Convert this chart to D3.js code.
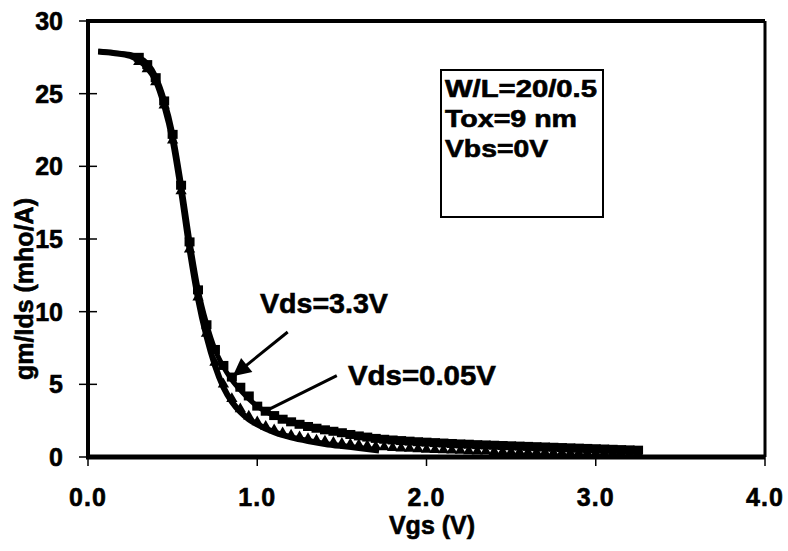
<!DOCTYPE html>
<html><head><meta charset="utf-8">
<script src="https://cdn.jsdelivr.net/npm/d3@7/dist/d3.min.js"></script>
<style>
body{margin:0;background:#fff;}
svg{display:block;font-family:"Liberation Sans",Arial,Helvetica,sans-serif;font-weight:bold;}
svg text{stroke:#000;stroke-width:0.6px;}
</style></head>
<body>
<svg id="chart" width="788" height="551"></svg>
<script>
// ---- data ----
const xTicks = [0, 1, 2, 3, 4];
const xTickLabels = ["0.0", "1.0", "2.0", "3.0", "4.0"];
const yTicks = [0, 5, 10, 15, 20, 25, 30];
const yTickLabels = ["0", "5", "10", "15", "20", "25", "30"];

// model curves
const lineHighX = [0.06,0.15,0.25,0.30,0.35,0.40,0.45,0.50,0.55,0.60,0.65,0.70,0.75,0.80,0.85,0.90,0.95,1.00,1.10,1.20,1.30,1.40,1.50,1.60,1.80,2.00,2.25,2.50,2.75,3.00,3.27];
const lineHighY = [27.9,27.8,27.7,27.5,27.1,26.2,24.6,22.3,18.9,15.0,11.6,9.2,7.4,6.2,5.3,4.6,4.0,3.5,2.85,2.4,2.1,1.85,1.65,1.45,1.15,1.0,0.87,0.76,0.66,0.56,0.46];
const lineLowX = [0.06,0.15,0.25,0.30,0.35,0.40,0.45,0.50,0.55,0.60,0.65,0.70,0.75,0.80,0.85,0.90,0.95,1.00,1.10,1.20,1.30,1.40,1.50,1.60,1.72];
const lineLowY = [27.9,27.8,27.6,27.3,26.8,25.9,24.2,21.8,18.3,14.3,10.9,8.3,6.3,4.8,3.8,3.1,2.6,2.25,1.7,1.35,1.1,0.9,0.75,0.62,0.45];

// measured points
const markX = [0.30,0.35,0.40,0.45,0.50,0.55,0.60,0.65,0.70,0.75,0.80,0.85,0.90,0.95,1.00,1.05,1.10,1.15,1.20,1.25,1.30,1.35,1.40,1.45,1.50,1.55,1.60,1.65,1.70,1.75,1.80,1.85,1.90,1.95,2.00,2.05,2.10,2.15,2.20,2.25,2.30,2.35,2.40,2.45,2.50,2.55,2.60,2.65,2.70,2.75,2.80,2.85,2.90,2.95,3.00,3.05,3.10,3.15,3.20,3.25];
const vds33Y = [27.5,27.0,26.1,24.5,22.2,18.7,14.8,11.5,9.1,7.4,6.3,5.5,4.8,4.2,3.5,3.15,2.85,2.6,2.42,2.25,2.1,1.98,1.87,1.77,1.67,1.55,1.45,1.37,1.28,1.22,1.17,1.13,1.09,1.05,1.02,0.99,0.96,0.93,0.90,0.88,0.85,0.83,0.81,0.79,0.77,0.75,0.73,0.71,0.69,0.67,0.65,0.63,0.61,0.59,0.57,0.55,0.53,0.51,0.49,0.47];
const vds005Y = [27.2,26.7,25.8,24.2,21.8,18.3,14.3,11.0,8.5,6.5,5.0,4.0,3.3,2.8,2.4,2.1,1.85,1.65,1.5,1.37,1.26,1.16,1.08,1.0,0.93,0.87,0.82,0.77,0.72,0.68,0.64,0.61,0.58,0.55,0.52,0.50,0.48,0.46,0.44,0.42,0.40,0.39,0.37,0.36,0.35,0.34,0.33,0.32,0.31,0.30,0.29,0.28,0.27,0.27,0.26,0.25,0.25,0.24,0.24,0.23];

const infoLines = ["W/L=20/0.5", "Tox=9 nm", "Vbs=0V"];
const labelHigh = "Vds=3.3V";
const labelLow = "Vds=0.05V";

// ---- drawing ----
const svg = d3.select("#chart");
const x = d3.scaleLinear().domain([0, 4]).range([88, 765]);
const y = d3.scaleLinear().domain([0, 30]).range([457, 21]);

// frame
svg.append("line").attr("x1", x(0)).attr("x2", x(4)).attr("y1", y(30)).attr("y2", y(30)).attr("stroke", "#000").attr("stroke-width", 4);
svg.append("line").attr("x1", x(4)).attr("x2", x(4)).attr("y1", y(30)).attr("y2", y(0)).attr("stroke", "#000").attr("stroke-width", 3);

// y axis
const yAxis = svg.append("g");
yAxis.selectAll("line.t").data(yTicks).join("line")
  .attr("x1", 79).attr("x2", 97).attr("y1", d => y(d)).attr("y2", d => y(d))
  .attr("stroke", "#000").attr("stroke-width", 1.5);
yAxis.selectAll("text").data(yTicks).join("text")
  .attr("x", 63).attr("y", d => y(d)).attr("dy", "0.36em")
  .attr("text-anchor", "end").attr("font-size", 25)
  .text((d, i) => yTickLabels[i]);

// x axis
const xAxis = svg.append("g");
xAxis.selectAll("line.t").data(xTicks).join("line")
  .attr("x1", d => x(d)).attr("x2", d => x(d)).attr("y1", y(0)).attr("y2", y(0) + 9)
  .attr("stroke", "#000").attr("stroke-width", 1.5);
xAxis.selectAll("text").data(xTicks).join("text")
  .attr("x", d => x(d)).attr("y", 506)
  .attr("text-anchor", "middle").attr("font-size", 25).attr("letter-spacing", 1)
  .text((d, i) => xTickLabels[i]);

// axis titles
svg.append("text").attr("x", 432).attr("y", 534).attr("text-anchor", "middle")
  .attr("font-size", 25).text("Vgs (V)");
svg.append("text").attr("transform", "translate(33,289) rotate(-90)")
  .attr("text-anchor", "middle").attr("font-size", 25).text("gm/Ids (mho/A)");

// model lines
const lineGen = d3.line().x(d => x(d[0])).y(d => y(d[1])).curve(d3.curveMonotoneX);
svg.append("path").datum(lineLowX.map((v, i) => [v, lineLowY[i]]))
  .attr("d", lineGen).attr("fill", "none").attr("stroke", "#000").attr("stroke-width", 6);
svg.append("path").datum(lineHighX.map((v, i) => [v, lineHighY[i]]))
  .attr("d", lineGen).attr("fill", "none").attr("stroke", "#000").attr("stroke-width", 5);

// markers
svg.append("g").selectAll("path").data(markX.map((v, i) => [v, vds005Y[i]])).join("path")
  .attr("d", d3.symbol().type(d3.symbolTriangle).size(55))
  .attr("transform", d => `translate(${x(d[0])},${y(d[1])})`).attr("fill", "#000");
svg.append("g").selectAll("rect").data(markX.map((v, i) => [v, vds33Y[i]])).join("rect")
  .attr("x", d => x(d[0]) - 5).attr("y", d => y(d[1]) - 4.5).attr("width", 10).attr("height", 9)
  .attr("fill", "#000");

// axes lines (drawn on top)
svg.append("line").attr("x1", x(0)).attr("x2", x(0)).attr("y1", y(30) - 2).attr("y2", y(0) + 2).attr("stroke", "#000").attr("stroke-width", 4);
svg.append("line").attr("x1", x(0) - 2).attr("x2", x(4)).attr("y1", y(0)).attr("y2", y(0)).attr("stroke", "#000").attr("stroke-width", 5);

// annotations
svg.append("defs").append("marker").attr("id", "ah").attr("viewBox", "0 0 10 10")
  .attr("refX", 10).attr("refY", 5).attr("markerWidth", 7).attr("markerHeight", 6)
  .attr("markerUnits", "strokeWidth").attr("orient", "auto")
  .append("path").attr("d", "M0,0 L10,5 L0,10 Z").attr("fill", "#000");
svg.append("line").attr("x1", x(1.18)).attr("y1", y(8.6)).attr("x2", x(0.855)).attr("y2", y(5.55))
  .attr("stroke", "#000").attr("stroke-width", 3).attr("marker-end", "url(#ah)");
svg.append("line").attr("x1", x(1.47)).attr("y1", y(5.6)).attr("x2", x(1.03)).attr("y2", y(3.05))
  .attr("stroke", "#000").attr("stroke-width", 3);
svg.append("text").attr("x", x(1.016)).attr("y", y(9.9)).attr("font-size", 28)
  .attr("textLength", 128).attr("lengthAdjust", "spacingAndGlyphs").text(labelHigh);
svg.append("text").attr("x", x(1.536)).attr("y", y(4.95)).attr("font-size", 28)
  .attr("textLength", 148).attr("lengthAdjust", "spacingAndGlyphs").text(labelLow);

// info box
svg.append("rect").attr("x", 441).attr("y", 70).attr("width", 162).attr("height", 147)
  .attr("fill", "#fff").attr("stroke", "#000").attr("stroke-width", 2);
const infoW = [152, 132, 103];
svg.append("g").selectAll("text").data(infoLines).join("text")
  .attr("x", 445).attr("y", (d, i) => 97 + i * 30).attr("font-size", 23)
  .attr("textLength", (d, i) => infoW[i]).attr("lengthAdjust", "spacingAndGlyphs")
  .text(d => d);
</script>
</body></html>
